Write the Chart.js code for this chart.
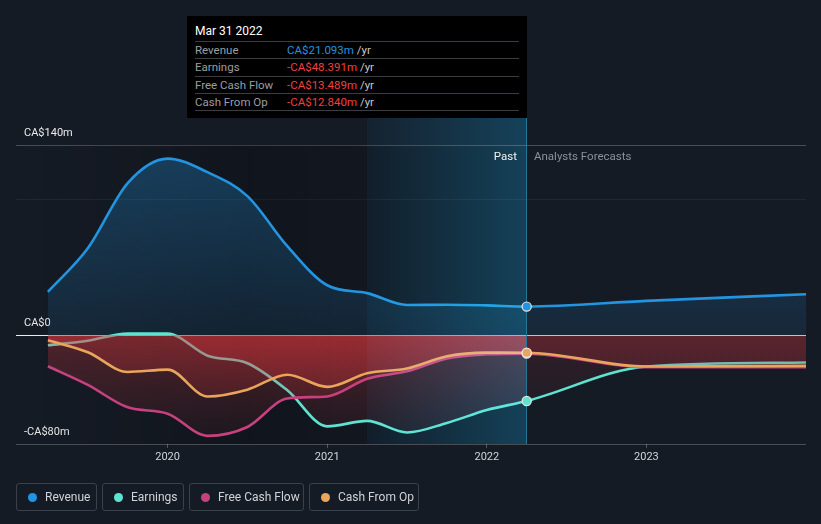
<!DOCTYPE html>
<html><head><meta charset="utf-8">
<script src="https://cdn.jsdelivr.net/npm/chart.js@4.4.1/dist/chart.umd.min.js"></script>
<style>
html,body{margin:0;padding:0;background:#151b25;}
body{width:821px;height:524px;position:relative;overflow:hidden;font-family:Roboto,"Noto Sans",sans-serif;}
#c{position:absolute;left:0;top:0;}
#tip{position:absolute;left:187px;top:16px;width:340px;height:102px;background:#000;}
#tip .tt{position:absolute;left:8px;top:8px;line-height:14px;font-size:12px;color:#fff;}
#tip .rows{position:absolute;left:8px;top:25px;width:324px;border-bottom:1px solid #3a3d42;}
#tip .row{height:16.3px;line-height:16.3px;border-top:1px solid #3a3d42;font-size:11.5px;white-space:nowrap;}
#tip .lab{display:inline-block;width:92px;color:#9b9ea3;}
#tip .neg{color:#f0413f;}
#tip .yr{color:#c9c9c9;}
.note{position:absolute;top:149px;line-height:14px;font-size:11.5px;}
#legend{position:absolute;left:16px;top:483px;display:flex;gap:5px;}
.li{box-sizing:border-box;height:28px;border:1px solid #3b414b;border-radius:3px;display:flex;align-items:center;padding-left:11px;font-size:12px;color:#d0d2d6;}
.dot{width:9px;height:9px;border-radius:50%;margin-right:8px;}
</style></head>
<body>
<canvas id="c" width="821" height="524"></canvas>
<div id="tip">
  <div class="tt">Mar 31 2022</div>
  <div class="rows">
    <div class="row"><span class="lab">Revenue</span><span style="color:#2394df">CA$21.093m</span><span class="yr"> /yr</span></div>
    <div class="row"><span class="lab">Earnings</span><span class="neg">-CA$48.391m</span><span class="yr"> /yr</span></div>
    <div class="row"><span class="lab">Free Cash Flow</span><span class="neg">-CA$13.489m</span><span class="yr"> /yr</span></div>
    <div class="row"><span class="lab">Cash From Op</span><span class="neg">-CA$12.840m</span><span class="yr"> /yr</span></div>
  </div>
</div>
<div class="note" style="right:304px;color:#f2f2f2;">Past</div>
<div class="note" style="left:534px;color:#8b9099;">Analysts Forecasts</div>
<div id="legend">
  <div class="li" style="width:81px"><span class="dot" style="background:#2394df"></span>Revenue</div>
  <div class="li" style="width:82px"><span class="dot" style="background:#5fe3d0"></span>Earnings</div>
  <div class="li" style="width:115px"><span class="dot" style="background:#c7417f"></span>Free Cash Flow</div>
  <div class="li" style="width:110px"><span class="dot" style="background:#e8a55b"></span>Cash From Op</div>
</div>
<script>
// ---- data (CA$ millions) ----
const QUARTERS = [2019.25, 2019.5, 2019.75, 2020, 2020.25, 2020.5, 2020.75, 2021, 2021.25, 2021.5, 2021.75, 2022, 2022.25];
const FORECAST_YEARS = [2023, 2024];
const YEARS = QUARTERS.concat(FORECAST_YEARS);
const revenue      = [32, 64, 112, 130, 120, 102.4, 65.6, 36.8, 31, 22.3, 22.5, 22, 21.093, 25.3, 30.2];
const earnings     = [-7.4, -4, 1.2, 1.2, -15, -20.6, -40.5, -67, -63, -71.5, -64.5, -55, -48.391, -23, -20];
const freeCashFlow = [-22.8, -36.5, -53, -57.7, -74, -67.5, -46.5, -45, -32, -26.5, -17, -14, -13.489, -23.5, -23.5];
const cashFromOp   = [-3.7, -12.5, -27, -25.3, -45, -40, -29, -38, -28, -24.5, -15.5, -12.8, -12.84, -23, -22.5];
const NOW = 2022.25;
const HIGHLIGHT_START = 2021.25;
const X_MIN = 2019.05, X_MAX = 2024;
const Y_MIN = -80, Y_MAX = 140;
const xTicks = [2020, 2021, 2022, 2023];
const yTicks = [-80, 0, 100, 140];
const yTickLabels = {"-80": "-CA$80m", "0": "CA$0", "140": "CA$140m"};

const COLORS = {rev:'#2394df', earn:'#5fe3d0', fcf:'#c7417f', cfo:'#e8a55b'};
const BG = '#151b25';
const nowIdx = YEARS.indexOf(NOW);
const G = {};

Chart.defaults.font.family = 'Roboto, "Noto Sans", sans-serif';

function series(label, values, color, kind, order){
  const ds = {
    label, order,
    data: YEARS.map((x,i)=>({x, y: values[i]})),
    borderColor: color, borderWidth: 2.6,
    pointRadius: 0, pointHoverRadius: 0,
    cubicInterpolationMode: 'monotone',
    fill: 'origin',
    backgroundColor: () => kind === 'blue' ? G.blue : G.redPast
  };
  if (kind === 'red') {
    ds.segment = { backgroundColor: c => (c.p0.parsed.x >= NOW - 1e-9 ? G.redFore : G.redPast) };
  }
  return ds;
}

const deco = {
  id: 'deco',
  beforeDraw(chart){
    const {ctx, width, height} = chart;
    ctx.save();
    ctx.fillStyle = BG;
    ctx.fillRect(0, 0, width, height);
    ctx.restore();
  },
  afterLayout(chart){
    const {ctx, chartArea:a, scales:{y}} = chart;
    const z = y.getPixelForValue(0);
    G.blue = ctx.createLinearGradient(0, a.top, 0, z);
    G.blue.addColorStop(0, 'rgba(35,148,223,0.32)');
    G.blue.addColorStop(1, 'rgba(35,148,223,0.10)');
    G.redPast = ctx.createLinearGradient(0, z, 0, a.bottom);
    G.redPast.addColorStop(0, 'rgba(225,55,60,0.29)');
    G.redPast.addColorStop(1, 'rgba(225,55,60,0.04)');
    G.redFore = ctx.createLinearGradient(0, z, 0, a.bottom);
    G.redFore.addColorStop(0, 'rgba(200,50,60,0.15)');
    G.redFore.addColorStop(1, 'rgba(200,50,60,0.02)');
  },
  beforeDatasetsDraw(chart){
    const {ctx, chartArea:a, scales:{x}} = chart;
    const xn = x.getPixelForValue(NOW);
    const g = ctx.createLinearGradient(a.left, 0, xn, 0);
    g.addColorStop(0, 'rgba(0,0,0,0)');
    g.addColorStop(0.45, 'rgba(0,0,0,0.22)');
    g.addColorStop(1, 'rgba(0,0,0,0.05)');
    ctx.save();
    ctx.fillStyle = g;
    ctx.fillRect(a.left, a.top, xn - a.left, a.bottom - a.top);
    ctx.restore();
  },
  beforeDatasetDraw(chart, args){
    if (args.index !== 4) return;
    const {ctx, chartArea:a, scales:{x}} = chart;
    const x0 = x.getPixelForValue(HIGHLIGHT_START), x1 = x.getPixelForValue(NOW);
    const top = 118;
    ctx.save();
    ctx.globalCompositeOperation = 'screen';
    const g = ctx.createLinearGradient(x0, 0, x1, 0);
    g.addColorStop(0, 'rgb(0,8,12)');
    g.addColorStop(1, 'rgb(0,44,62)');
    ctx.fillStyle = g;
    ctx.fillRect(x0, top, x1 - x0, a.bottom - top);
    ctx.restore();
    ctx.save();
    ctx.strokeStyle = 'rgba(35,125,155,0.9)';
    ctx.lineWidth = 1;
    ctx.beginPath();
    ctx.moveTo(Math.round(x1) - 0.5, top);
    ctx.lineTo(Math.round(x1) - 0.5, a.bottom);
    ctx.stroke();
    ctx.restore();
  }
};

const markers = {
  label: 'now', order: 0, showLine: false, fill: false,
  data: [revenue, earnings, freeCashFlow, cashFromOp].map(v => ({x: NOW, y: v[nowIdx]})),
  pointRadius: 4.6, pointHoverRadius: 4.6,
  pointBackgroundColor: [COLORS.rev, COLORS.earn, COLORS.fcf, COLORS.cfo],
  pointBorderColor: 'rgba(235,235,235,0.95)', pointBorderWidth: 1.2
};

new Chart(document.getElementById('c'), {
  type: 'line',
  data: { datasets: [
    series('Cash From Op', cashFromOp, COLORS.cfo, 'red', 1),
    series('Free Cash Flow', freeCashFlow, COLORS.fcf, 'red', 2),
    series('Earnings', earnings, COLORS.earn, 'red', 3),
    series('Revenue', revenue, COLORS.rev, 'blue', 4),
    markers
  ]},
  options: {
    responsive: false, animation: false, events: [],
    layout: { padding: {top: 145, left: 16, right: 15, bottom: 60} },
    plugins: { legend: {display:false}, tooltip: {enabled:false} },
    scales: {
      x: {
        type: 'linear', min: X_MIN, max: X_MAX,
        afterBuildTicks: s => { s.ticks = xTicks.map(v => ({value: v})); },
        afterFit: s => { s.height = 20; },
        border: {display:false},
        grid: {drawOnChartArea:false, drawTicks:true, tickLength:4, color:'rgba(255,255,255,0.25)'},
        ticks: {color:'#d2d4d8', font:{size:11}, padding:3, maxRotation:0, autoSkip:false, callback: v => String(v)}
      },
      y: {
        min: Y_MIN, max: Y_MAX,
        afterBuildTicks: s => { s.ticks = yTicks.map(v => ({value: v})); },
        afterFit: s => { s.width = 0; },
        border: {display:false},
        grid: {drawTicks:false, lineWidth:1,
          color: c => c.tick.value === 0 ? '#eeeeee' : (c.tick.value === 100 ? 'rgba(255,255,255,0.06)' : 'rgba(255,255,255,0.22)')},
        ticks: {mirror:true, padding:8, labelOffset:-12, color:'#eaeaea', font:{size:11},
          callback: v => (yTickLabels[String(v)] !== undefined ? yTickLabels[String(v)] : '')}
      }
    }
  },
  plugins: [deco]
});
</script>
</body></html>
